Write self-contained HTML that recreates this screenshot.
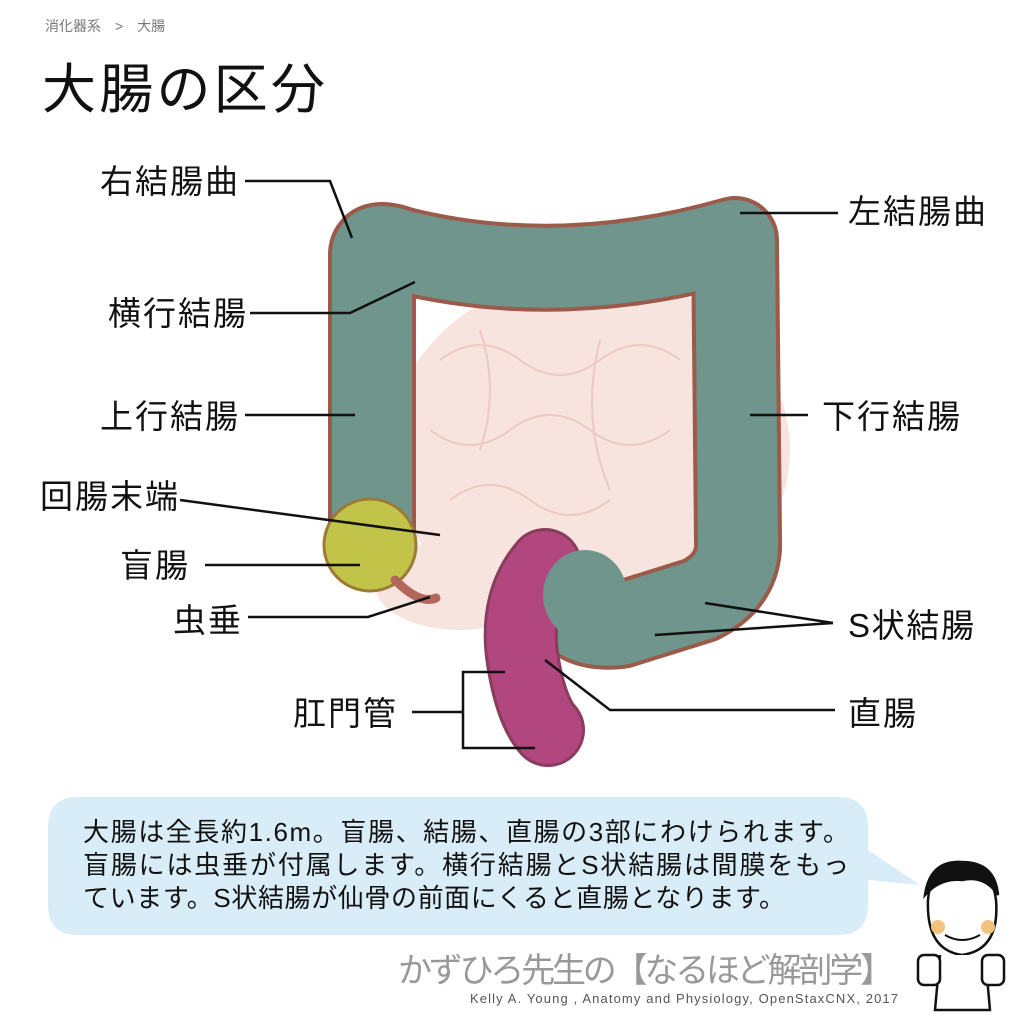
<!DOCTYPE html>
<html><head><meta charset="utf-8"><style>
body{margin:0;width:1024px;height:1024px;background:#fff;overflow:hidden;font-family:"Liberation Sans","Noto Sans CJK JP",sans-serif;}
</style></head><body>
<svg width="1024" height="1024" viewBox="0 0 1024 1024" xmlns="http://www.w3.org/2000/svg" font-family="Liberation Sans, Noto Sans CJK JP, sans-serif">
<text x="45" y="31" font-size="14" fill="#777">消化器系　&gt;　大腸</text>
<text x="42" y="108" font-size="54" fill="#111" textLength="283">大腸の区分</text>

<!-- small intestine -->
<ellipse cx="590" cy="450" rx="200" ry="175" fill="#f8e4df"/>
<ellipse cx="460" cy="585" rx="85" ry="45" fill="#f8e4df"/>
<g stroke="#ecc9c1" stroke-width="2" fill="none">
<path d="M440 360 q40 -30 80 0 t80 0 t80 0"/><path d="M430 430 q40 30 80 0 t80 0 t80 0"/>
<path d="M450 500 q40 -30 80 0 t80 0"/><path d="M480 330 q20 60 0 120"/><path d="M600 340 q-20 80 10 150"/>
</g>
<!-- colon -->
<path d="M372 530 L372 255 Q372 240 400 250 Q560 290 735 240 L738 540 Q740 580 700 600 L620 625 Q575 630 565 600" fill="none" stroke="#9b5a4a" stroke-width="88" stroke-linejoin="round" stroke-linecap="round"/>
<path d="M372 530 L372 255 Q372 240 400 250 Q560 290 735 240 L738 540 Q740 580 700 600 L620 625 Q575 630 565 600" fill="none" stroke="#6f958d" stroke-width="80" stroke-linejoin="round" stroke-linecap="round"/>
<!-- cecum -->
<ellipse cx="370" cy="545" rx="46" ry="46" fill="#c2c44a" stroke="#9b7a3a" stroke-width="3"/>
<path d="M395 580 Q420 605 436 598" stroke="#b3665a" stroke-width="9" fill="none" stroke-linecap="round"/>
<!-- rectum -->
<path d="M545 565 Q515 600 522 655 Q530 710 548 730" fill="none" stroke="#8a3c5c" stroke-width="74" stroke-linecap="round"/>
<path d="M545 565 Q515 600 522 655 Q530 710 548 730" fill="none" stroke="#b2467f" stroke-width="68" stroke-linecap="round"/>
<ellipse cx="585" cy="595" rx="42" ry="45" fill="#6f958d"/>

<g stroke="#111" stroke-width="2.5" fill="none">
<polyline points="245,181 330,181 352,238"/>
<line x1="740" y1="213" x2="838" y2="213"/>
<polyline points="250,313 350,313 415,282"/>
<line x1="245" y1="415" x2="355" y2="415"/>
<line x1="750" y1="415" x2="808" y2="415"/>
<line x1="180" y1="500" x2="440" y2="535"/>
<line x1="205" y1="565" x2="360" y2="565"/>
<polyline points="248,617 368,617 430,597"/>
<line x1="705" y1="603" x2="833" y2="623"/>
<line x1="655" y1="635" x2="833" y2="623"/>
<polyline points="545,660 610,710 835,710"/>
<line x1="412" y1="712" x2="463" y2="712"/>
<polyline points="505,672 463,672 463,748 535,748"/>
</g>
<g font-size="33" fill="#111">
<text x="100" y="193" textLength="138">右結腸曲</text>
<text x="848" y="223" textLength="138">左結腸曲</text>
<text x="108" y="325" textLength="138">横行結腸</text>
<text x="100" y="428" textLength="138">上行結腸</text>
<text x="822" y="428" textLength="138">下行結腸</text>
<text x="40" y="508" textLength="138">回腸末端</text>
<text x="120" y="577" textLength="68">盲腸</text>
<text x="173" y="632" textLength="68">虫垂</text>
<text x="848" y="637" textLength="126">S状結腸</text>
<text x="848" y="725" textLength="68">直腸</text>
<text x="293" y="725" textLength="103">肛門管</text>
</g>

<path d="M78 797 H838 Q868 797 868 827 V850 L920 885 L868 880 V905 Q868 935 838 935 H78 Q48 935 48 905 V827 Q48 797 78 797 Z" fill="#d9edf8"/>
<g font-size="26" fill="#111">
<text x="83" y="841" textLength="766">大腸は全長約1.6m。盲腸、結腸、直腸の3部にわけられます。</text>
<text x="83" y="874" textLength="766">盲腸には虫垂が付属します。横行結腸とS状結腸は間膜をもっ</text>
<text x="83" y="907" textLength="702">ています。S状結腸が仙骨の前面にくると直腸となります。</text>
</g>
<text x="398" y="982" font-size="34" fill="#999" textLength="496">かずひろ先生の【なるほど解剖学】</text>
<text x="470" y="1003" font-size="13" fill="#555" textLength="428">Kelly A. Young , Anatomy and Physiology, OpenStaxCNX, 2017</text>

<!-- mascot -->
<g stroke="#111" stroke-width="2.5" fill="#fff">
<path d="M928 900 Q930 868 960 866 Q992 866 996 900 Q1000 950 962 955 Q926 950 928 900 Z"/>
<path d="M925 895 Q930 860 962 862 Q995 862 998 895 Q985 875 962 880 Q940 878 925 895 Z" fill="#111"/>
<path d="M940 955 L935 1010 L990 1010 L985 955"/>
<rect x="918" y="955" width="22" height="30" rx="6"/><rect x="982" y="955" width="22" height="30" rx="6"/>
</g>
<circle cx="938" cy="927" r="7" fill="#f3c27d"/><circle cx="988" cy="927" r="7" fill="#f3c27d"/>
<path d="M945 935 Q962 945 980 935" stroke="#111" stroke-width="2" fill="none"/>
</svg>
</body></html>
